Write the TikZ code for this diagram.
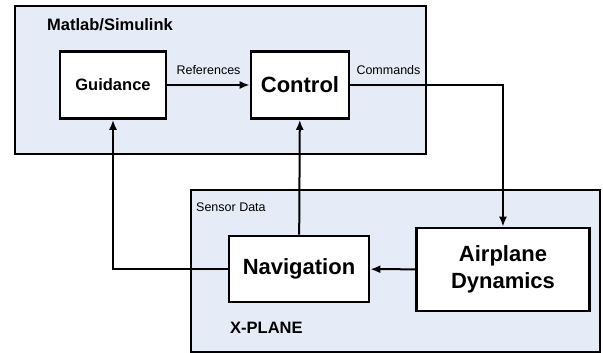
\documentclass[tikz,border=0pt]{standalone}
\usepackage{fontspec}
\setmainfont{Liberation Sans}
\usepackage{xcolor}
\definecolor{panelfill}{RGB}{229,236,247}
\usepackage{tikz}
\usetikzlibrary{arrows.meta, positioning}

\tikzset{
	panel/.style={draw=black, line width=2.6pt, fill=panelfill},
	block/.style={draw=black, line width=2.6pt, fill=white, inner sep=0pt, align=center, font=\bfseries\fontsize{22}{26.5}\selectfont},
	link/.style={line width=2pt, -{Latex[length=10pt, width=8pt]}},
	tag/.style={inner sep=0pt, font=\fontsize{12.5}{14}\selectfont},
	title/.style={inner sep=0pt, anchor=west, font=\bfseries\fontsize{16.5}{18}\selectfont}
}

\begin{document}
\begin{tikzpicture}[x=1pt, y=-1pt]

\useasboundingbox (0,0) rectangle (603,353);

% panels
\draw[panel] (15,6) rectangle (426,154); % matlab side
\draw[panel] (191,190) rectangle (600,352); % x-plane side

\node[title] (matlab) at (47,25) {Matlab/Simulink};
\node[title] (xplane) at (230,328) {X-PLANE};
\node[tag, anchor=west] (sensor) at (196,207) {Sensor Data};

% blocks
\node[block, minimum width=106pt, minimum height=67pt, font=\bfseries\fontsize{16.5}{18}\selectfont] (guid) at (113,85) {Guidance};
\node[block, minimum width=98pt, minimum height=67pt] (ctrl) at (300,85) {Control};
\node[block, minimum width=140pt, minimum height=66pt] (nav) at (299,269) {Navigation};
\node[block, minimum width=173pt, minimum height=83pt] (air) at (503,269.5) {Airplane\\Dynamics};

% connectors
\draw[link] (guid) -- node[tag, above=9pt] (refs) {References} (ctrl);
\draw[link] (ctrl.east) -| (air.north);
\node[tag, anchor=south west] (cmds) at ([xshift=6pt, yshift=10pt]ctrl.east) {Commands};
\draw[link] (air) -- (nav);
\draw[link] (nav) -- (ctrl);
\draw[link] (nav.west) -| (guid.south);

\end{tikzpicture}
\end{document}
